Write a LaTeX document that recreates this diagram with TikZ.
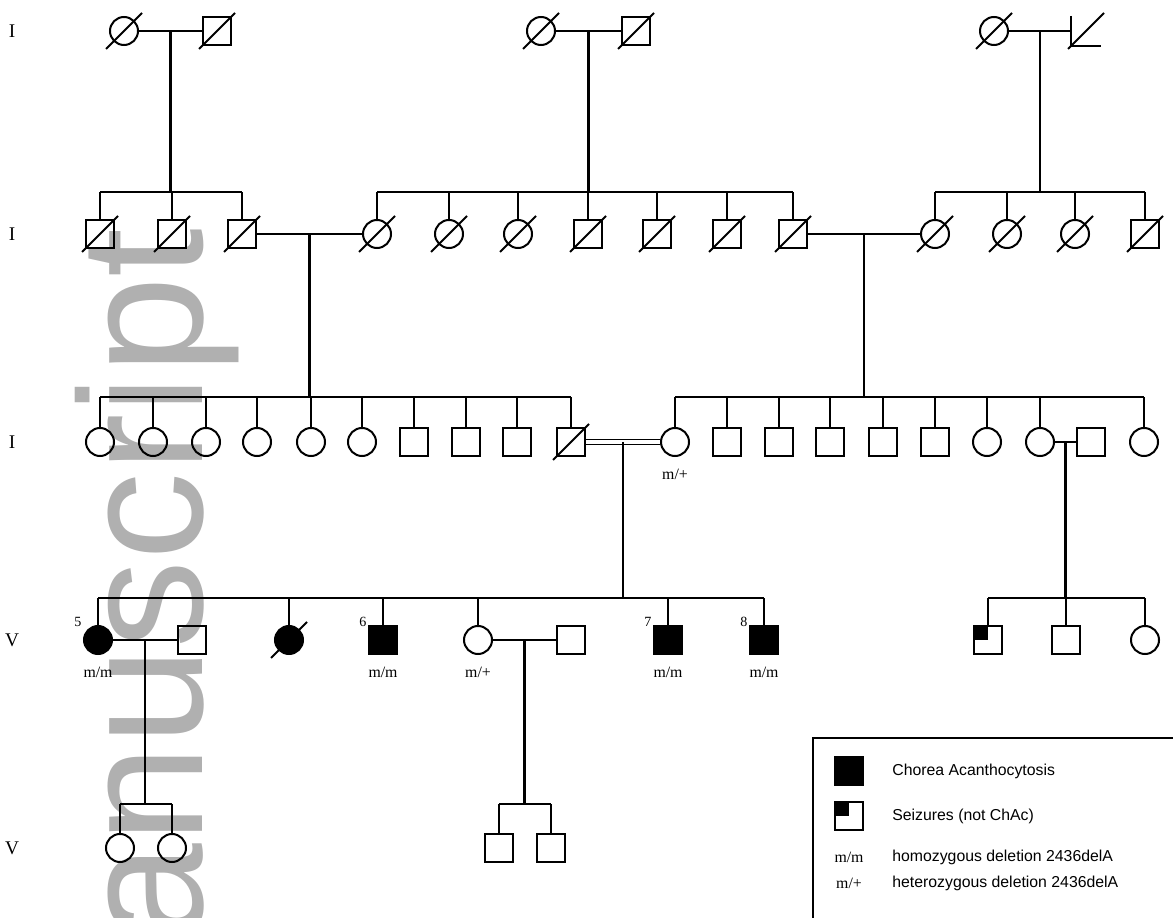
\documentclass[tikz,border=0pt]{standalone}
\usepackage{fontspec}
\setmainfont{Liberation Serif}
\newfontfamily\legendfont{Liberation Sans}
\usetikzlibrary{calc, math}

\tikzset{
  person/.style={draw, line width=1.15pt, inner sep=0pt, minimum size=0.56cm},
  male/.style={person, rectangle},
  female/.style={person, circle},
  affected/.style={fill=black},
  seizure/.style={path picture={\fill[black] (path picture bounding box.north west) rectangle (path picture bounding box.center);}},
  slash/.style={line width=1.15pt},
  sibline/.style={line width=1.2pt},
  thinmat/.style={line width=0.6pt},
  consang/.style={line width=0.8pt, double, double distance=1.8pt},
  geno/.style={font=\fontsize{9}{9}\selectfont, inner sep=1pt},
  numlabel/.style={font=\fontsize{8}{8}\selectfont, inner sep=1pt},
  genlabel/.style={font=\fontsize{11}{11}\selectfont},
  legendtext/.style={font=\legendfont\fontsize{9}{9}\selectfont, anchor=west, inner sep=0pt},
  watermark/.style={font=\legendfont\fontsize{100}{100}\selectfont, text=black!31, rotate=90, anchor=base east, inner sep=0pt}
}

\begin{document}
\begin{tikzpicture}[x=0.02cm, y=-0.02cm]
\tikzmath{
\yI=31; \yII=234; \yIII=442; \yIV=640; \yV=848;
\sI=192; \sII=397; \sIII=598; \sIV=804;
}
\useasboundingbox (0,0) rectangle (1173,918);

\node[watermark] (wm) at (202,228) {manuscript};

\foreach \g/\y/\n in {I/\yI/gA, I/\yII/gB, I/\yIII/gC, V/\yIV/gD, V/\yV/gE}
  \node[genlabel] (\n) at (12,\y) {\g};

% generation I
\node[female] (I1) at (124,\yI) {};
\node[male] (I2) at (217,\yI) {};
\node[female] (I3) at (541,\yI) {};
\node[male] (I4) at (636,\yI) {};
\node[female] (I5) at (994,\yI) {};
\node[male, draw=none] (I6) at (1086,\yI) {};
\draw[sibline] (I6.north west) -- (I6.south west) -- (I6.south east);

% generation II
\foreach \n/\x in {II1/100, II2/172, II3/242, II7/588, II8/657, II9/727, II10/793, II14/1145}
  \node[male] (\n) at (\x,\yII) {};
\foreach \n/\x in {II4/377, II5/449, II6/518, II11/935, II12/1007, II13/1075}
  \node[female] (\n) at (\x,\yII) {};

% generation III
\foreach \n/\x in {III1/100, III2/153, III3/206, III4/257, III5/311, III6/362, III11/675, III17/987, III18/1040, III20/1144}
  \node[female] (\n) at (\x,\yIII) {};
\foreach \n/\x in {III7/414, III8/466, III9/517, III10/571, III12/727, III13/779, III14/830, III15/883, III16/935, III19/1091}
  \node[male] (\n) at (\x,\yIII) {};

% generation IV
\node[female, affected] (IV1) at (98,\yIV) {};
\node[male] (IV2) at (192,\yIV) {};
\node[female, affected] (IV3) at (289,\yIV) {};
\node[male, affected] (IV4) at (383,\yIV) {};
\node[female] (IV5) at (478,\yIV) {};
\node[male] (IV6) at (571,\yIV) {};
\node[male, affected] (IV7) at (668,\yIV) {};
\node[male, affected] (IV8) at (764,\yIV) {};
\node[male, seizure] (IV9) at (988,\yIV) {};
\node[male] (IV10) at (1066,\yIV) {};
\node[female] (IV11) at (1145,\yIV) {};

% generation V
\node[female] (V1) at (120,\yV) {};
\node[female] (V2) at (172,\yV) {};
\node[male] (V3) at (499,\yV) {};
\node[male] (V4) at (551,\yV) {};

% deceased
\foreach \n in {I1,I2,I3,I4,I5,I6,II1,II2,II3,II4,II5,II6,II7,II8,II9,II10,II11,II12,II13,II14,III10,IV3}
  \draw[slash] ([shift={(-18,18)}]\n.center) -- ([shift={(18,-18)}]\n.center);

% marriages
\draw[thinmat] (I1) -- (I2);
\draw[thinmat] (I3) -- (I4);
\draw[thinmat] (I5) -- (I6.west);
\draw[sibline] (II3) -- (II4);
\draw[sibline] (II10) -- (II11);
\draw[consang] (III10) -- (III11);
\draw[sibline] (III18) -- (III19);
\draw[sibline] (IV1) -- (IV2);
\draw[sibline] (IV5) -- (IV6);

% descent lines
\foreach \a/\b/\s/\first/\last/\kids in {
  I1/I2/\sI/II1/II3/{II1,II2,II3},
  I3/I4/\sI/II4/II10/{II4,II5,II6,II7,II8,II9,II10},
  I5/I6/\sI/II11/II14/{II11,II12,II13,II14},
  II3/II4/\sII/III1/III10/{III1,III2,III3,III4,III5,III6,III7,III8,III9,III10},
  II10/II11/\sII/III11/III20/{III11,III12,III13,III14,III15,III16,III17,III18,III20},
  III10/III11/\sIII/IV1/IV8/{IV1,IV3,IV4,IV5,IV7,IV8},
  III18/III19/\sIII/IV9/IV11/{IV9,IV10,IV11},
  IV1/IV2/\sIV/V1/V2/{V1,V2},
  IV5/IV6/\sIV/V3/V4/{V3,V4}}{
  \coordinate (mid) at ($(\a)!0.5!(\b)$);
  \coordinate (sib) at (mid |- 0,\s);
  \draw[sibline] (mid) -- (sib);
  \draw[sibline] (\first |- sib) -- (\last |- sib);
  \foreach \k in \kids
    \draw[sibline] (\k) -- (\k |- sib);
}

% numbers and genotypes
\foreach \n/\t in {IV1/5, IV4/6, IV7/7, IV8/8}
  \node[numlabel] (num\n) at ([shift={(-20,-18)}]\n.center) {\t};
\foreach \n/\t in {III11/{m/+}, IV1/{m/m}, IV4/{m/m}, IV5/{m/+}, IV7/{m/m}, IV8/{m/m}}
  \node[geno] (gt\n) at ([shift={(0,32)}]\n.center) {\t};

% legend
\draw[sibline] (813,950) -- (813,738) -- (1190,738);
\node[male, affected] (keyA) at (849,771) {};
\node[legendtext] (txtA) at (892,771) {Chorea Acanthocytosis};
\node[male, seizure] (keyS) at (849,816) {};
\node[legendtext] (txtS) at (892,816) {Seizures (not ChAc)};
\node[geno] (keyHom) at (849,857) {m/m};
\node[legendtext] (txtHom) at (892,857) {homozygous deletion 2436delA};
\node[geno] (keyHet) at (849,883) {m/+};
\node[legendtext] (txtHet) at (892,883) {heterozygous deletion 2436delA};

\end{tikzpicture}
\end{document}
